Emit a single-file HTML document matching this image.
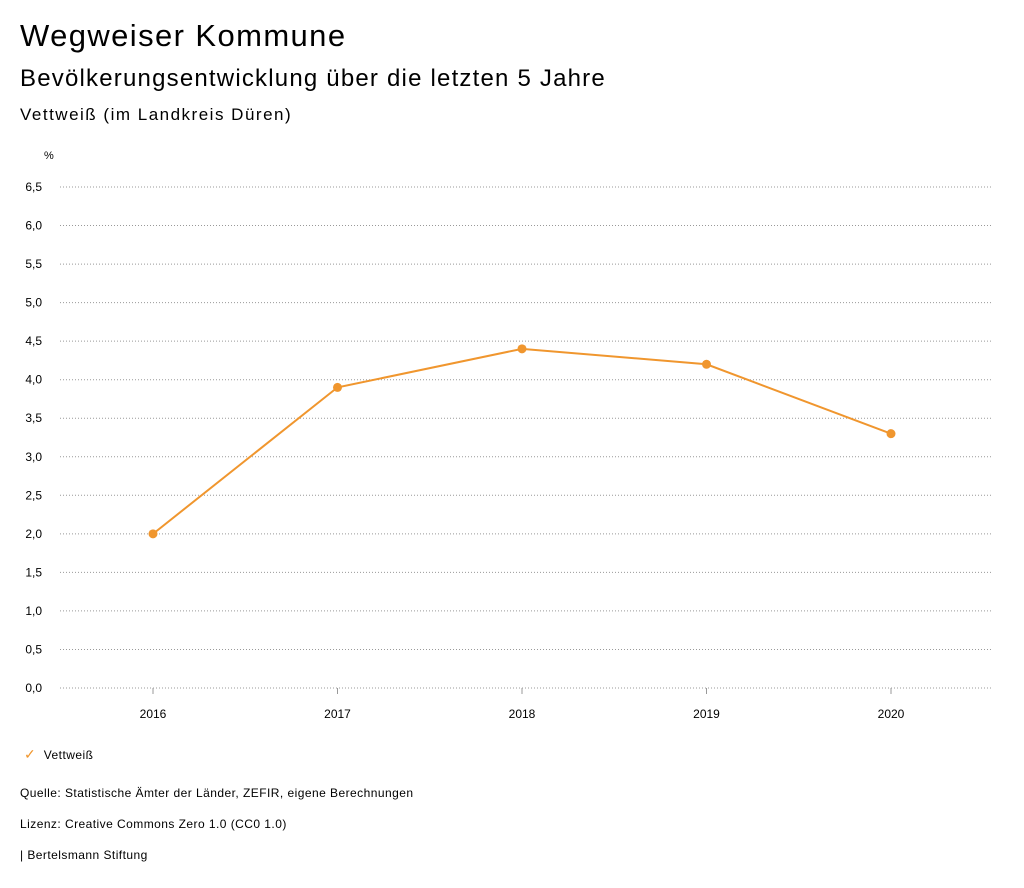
<!DOCTYPE html>
<html><head><meta charset="utf-8"><style>
body{margin:0;width:1024px;height:888px;background:#fff;font-family:"Liberation Sans",sans-serif;color:#000;overflow:hidden;position:relative}
.t{position:absolute;white-space:nowrap}
.s{letter-spacing:0.45px}
</style></head><body>
<div class="t" style="left:20px;top:18px;font-size:31px;letter-spacing:1.4px">Wegweiser Kommune</div>
<div class="t" style="left:20px;top:65px;font-size:24px;letter-spacing:1.2px">Bevölkerungsentwicklung über die letzten 5 Jahre</div>
<div class="t" style="left:20px;top:105px;font-size:17px;letter-spacing:1.5px">Vettweiß (im Landkreis Düren)</div>
<svg id="chart" width="1024" height="740" style="position:absolute;left:0;top:0" font-family="Liberation Sans, sans-serif"></svg>
<div class="t s" style="left:24px;top:746px;font-size:12px"><span style="color:#f0962e;font-size:14px">✓</span>&nbsp;&nbsp;Vettweiß</div>
<div class="t s" style="left:20px;top:786px;font-size:12px">Quelle: Statistische Ämter der Länder, ZEFIR, eigene Berechnungen</div>
<div class="t s" style="left:20px;top:817px;font-size:12px">Lizenz: Creative Commons Zero 1.0 (CC0 1.0)</div>
<div class="t s" style="left:20px;top:848px;font-size:12px">| Bertelsmann Stiftung</div>
<script>
const years=["2016","2017","2018","2019","2020"];
const values=[2.0,3.9,4.4,4.2,3.3];
const yTicks=[0,0.5,1,1.5,2,2.5,3,3.5,4,4.5,5,5.5,6,6.5];
const svg=document.getElementById('chart');const NS='http://www.w3.org/2000/svg';
const x0=60,x1=991,yB=688,yT=187,yMax=6.5;
const xs=i=>153+i*(891-153)/(years.length-1);
const ys=v=>yB-(v/yMax)*(yB-yT);
function mk(t,a){const e=document.createElementNS(NS,t);for(const k in a)e.setAttribute(k,a[k]);svg.appendChild(e);return e;}
const u=mk('text',{x:44,y:159,'font-size':11});u.textContent='%';


yTicks.forEach(v=>{
const g=mk('line',{x1:x0,x2:x1,y1:ys(v),y2:ys(v),stroke:'#999','stroke-dasharray':'1,2'});


const t=mk('text',{x:42,y:ys(v)+4,'text-anchor':'end','font-size':12});t.textContent=v.toFixed(1).replace('.',',');


});
years.forEach((y,i)=>{
const k=mk('line',{x1:xs(i),x2:xs(i),y1:yB,y2:yB+6,stroke:'#999'});


const t=mk('text',{x:xs(i),y:718,'text-anchor':'middle','font-size':12});t.textContent=y;


});
const p=mk('polyline',{points:values.map((v,i)=>xs(i)+','+ys(v)).join(' '),fill:'none',stroke:'#f0962e','stroke-width':2});


values.forEach((v,i)=>{
const c=mk('circle',{cx:xs(i),cy:ys(v),r:4.5,fill:'#f0962e'});


});
</script>
</body></html>
